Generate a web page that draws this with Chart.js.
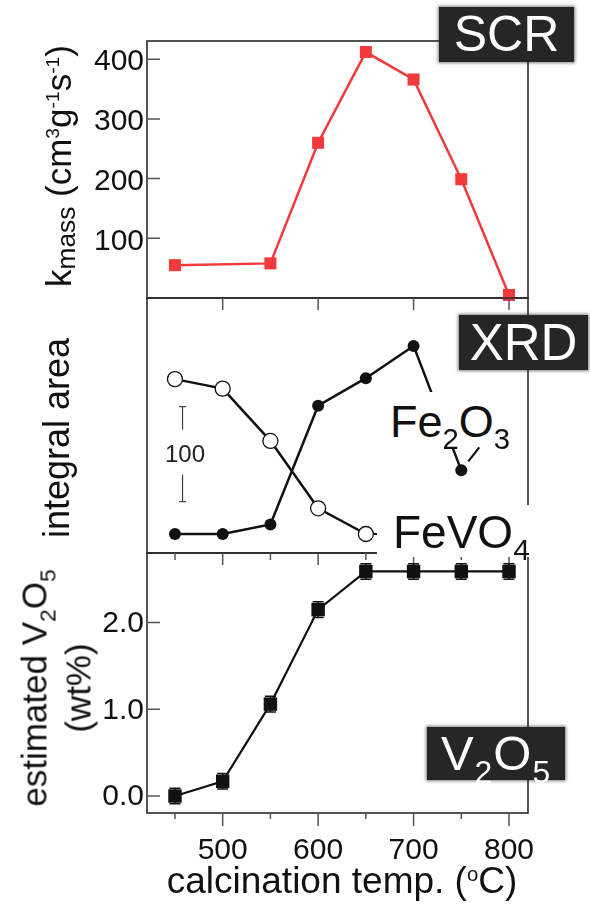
<!DOCTYPE html>
<html>
<head>
<meta charset="utf-8">
<script src="https://cdn.jsdelivr.net/npm/chart.js@4.4.1/dist/chart.umd.min.js"></script>
<style>
  html, body { margin: 0; padding: 0; background: #fff; }
  #wrap { position: relative; width: 590px; height: 917px; overflow: hidden;
          font-family: "Liberation Sans", Arial, sans-serif; color: #111; }
  canvas { position: absolute; left: 0; }
  .lbl { position: absolute; white-space: nowrap; }
  .rot { position: absolute; white-space: nowrap; text-align: center;
         transform: translate(-50%, -50%) rotate(-90deg); }
  .tag { position: absolute; background: #262626; color: #fff; text-align: center;
         box-shadow: 0 0 3px 1px rgba(38, 38, 38, 0.6); }
  .note { position: absolute; background: #fff; color: #111; white-space: nowrap; }
  .dn { position: relative; font-size: 0.65em; top: 0.4em; }
  .up { position: relative; font-size: 0.55em; top: -0.6em; }
</style>
</head>
<body>
<div id="wrap">
  <canvas id="scrChart" width="590" height="320" style="top:0"></canvas>
  <canvas id="xrdChart" width="590" height="290" style="top:280px"></canvas>
  <canvas id="v2o5Chart" width="590" height="387" style="top:530px"></canvas>

  <!-- axis titles -->
  <div class="rot" style="left:59px; top:166px; font-size:35px;">k<span class="dn" style="font-size:0.75em; top:0.15em;">mass</span> (cm<span class="up">3</span>g<span class="up">-1</span>s<span class="up">-1</span>)</div>
  <div class="rot" style="left:57px; top:438px; font-size:36px;">integral area</div>
  <div class="rot" style="left:56px; top:688px; font-size:35px; line-height:39px;">estimated V<span class="dn">2</span>O<span class="dn">5</span><br>(wt%)</div>
  <div class="lbl" style="left:0; width:684px; text-align:center; top:861px; font-size:37px; line-height:40px;">calcination temp. (<span class="up">o</span>C)</div>

  <!-- panel tags -->
  <div class="tag" style="left:439px; top:7px; width:135px; height:55px; font-size:50px; line-height:55px;">SCR</div>
  <div class="tag" style="left:459px; top:315px; width:129px; height:55px; font-size:51px; line-height:55px;">XRD</div>
  <div class="tag" style="left:427px; top:727px; width:138px; height:53px; font-size:49px; line-height:53px; letter-spacing:1px;">V<span class="dn">2</span>O<span class="dn">5</span></div>

  <!-- series labels -->
  <div class="note" style="left:382px; top:392px; width:138px; height:55px; font-size:45px; line-height:45px;"><div style="padding:7px 0 0 8px;">Fe<span class="dn">2</span>O<span class="dn">3</span></div></div>
  <div class="note" style="left:377px; top:505px; width:160px; height:52px; font-size:46px; line-height:45px;"><div style="padding:5px 0 0 16px;">FeVO<span class="dn">4</span></div></div>
  <div class="lbl" style="left:165px; top:440px; font-size:24px; line-height:28px; color:#222;">100</div>
</div>

<script>
// calcination temperatures (degC)
const temps = [450, 500, 550, 600, 650, 700, 750, 800];
// SCR activity k_mass (cm3 g-1 s-1), no sample at 500
const kMass = [55, null, 58, 260, 412, 366, 199, 5];
// XRD integral areas (arbitrary units)
const fe2o3Area = [16, 16, 26, 151, 180, 214, 83, null];
const fevo4Area = [179, 169, 114, 43, 16, null, null, null];
// estimated V2O5 (wt%) and error
const v2o5Wt = [0.0, 0.17, 1.06, 2.15, 2.59, 2.59, 2.59, 2.59];
const v2o5Err = [0.09, 0.09, 0.09, 0.09, 0.09, 0.09, 0.09, 0.09];

// ticks
const xTicks = [450, 500, 550, 600, 650, 700, 750, 800];
const xMajorTicks = [500, 600, 700, 800];
const kTicks = [100, 200, 300, 400];
const v2o5Ticks = [0, 1, 2];
const scaleBar = [50, 150];   // 100 area units, label in the middle

Chart.defaults.font.family = '"Liberation Sans", Arial, sans-serif';
Chart.defaults.color = '#111';

const points = ys => temps.map((t, i) => ({ x: t, y: ys[i] })).filter(p => p.y !== null);

const xRange = { type: 'linear', min: 420.7, max: 819.9 };

// frame, inward/outward ticks and a few extras, drawn from the chart scales
const framePlugin = {
    id: 'frame',
    beforeDatasetsDraw(chart, args, opts) {
        const { ctx, chartArea: a, scales: { x, y } } = chart;
        ctx.save();
        ctx.strokeStyle = '#2a2a2a';
        ctx.lineWidth = 1.6;
        ctx.strokeRect(a.left, a.top, a.right - a.left, a.bottom - a.top);

        ctx.beginPath();
        ctx.strokeStyle = '#555';
        ctx.lineWidth = 1.5;
        (opts.yTicks || []).forEach(v => {
            const py = y.getPixelForValue(v);
            ctx.moveTo(a.left, py);
            ctx.lineTo(a.left + 13, py);
        });
        (opts.topTicks || []).forEach(v => {
            const px = x.getPixelForValue(v);
            ctx.moveTo(px, a.top);
            ctx.lineTo(px, a.top + (v % 100 === 0 ? 12 : 7));
        });
        (opts.bottomTicks || []).forEach(v => {
            const px = x.getPixelForValue(v);
            ctx.moveTo(px, a.bottom);
            ctx.lineTo(px, a.bottom + (v % 100 === 0 ? 13 : 6));
        });
        ctx.stroke();

        if (opts.scaleBar) {
            const px = x.getPixelForValue(458);
            const top = y.getPixelForValue(opts.scaleBar[1]);
            const bot = y.getPixelForValue(opts.scaleBar[0]);
            ctx.beginPath();
            ctx.strokeStyle = '#222';
            ctx.lineWidth = 1;
            ctx.moveTo(px - 3.5, top); ctx.lineTo(px + 3.5, top);
            ctx.moveTo(px, top); ctx.lineTo(px, top + 23);
            ctx.moveTo(px, bot - 27); ctx.lineTo(px, bot);
            ctx.moveTo(px - 3.5, bot); ctx.lineTo(px + 3.5, bot);
            ctx.stroke();
        }

        if (opts.leaders) {
            ctx.beginPath();
            ctx.strokeStyle = '#111';
            ctx.lineWidth = 2.2;
            // Fe2O3 label leader to the 750 point
            const p1x = x.getPixelForValue(750), p1y = y.getPixelForValue(fe2o3Area[6]);
            ctx.moveTo(p1x + 7, p1y - 9); ctx.lineTo(p1x + 18, p1y - 23);
            // FeVO4 label leader from the 650 point
            const p2x = x.getPixelForValue(650), p2y = y.getPixelForValue(fevo4Area[4]);
            ctx.moveTo(p2x, p2y); ctx.lineTo(p2x + 22, p2y);
            ctx.stroke();
        }

        if (opts.errors) {
            ctx.beginPath();
            ctx.strokeStyle = '#111';
            ctx.lineWidth = 1.5;
            temps.forEach((t, i) => {
                const px = x.getPixelForValue(t);
                const y1 = y.getPixelForValue(v2o5Wt[i] - v2o5Err[i]);
                const y2 = y.getPixelForValue(v2o5Wt[i] + v2o5Err[i]);
                ctx.moveTo(px, y1); ctx.lineTo(px, y2);
                ctx.moveTo(px - 5.5, y1); ctx.lineTo(px + 5.5, y1);
                ctx.moveTo(px - 5.5, y2); ctx.lineTo(px + 5.5, y2);
            });
            ctx.stroke();
        }
        ctx.restore();
    }
};

const hiddenGrid = { display: false, drawTicks: false };

// SCR panel
new Chart(document.getElementById('scrChart'), {
    type: 'line',
    data: {
        datasets: [{
            data: points(kMass),
            borderColor: 'rgb(240, 58, 60)',
            backgroundColor: 'rgb(240, 58, 60)',
            borderWidth: 2.5,
            pointStyle: 'rect',
            pointRadius: 8.5,
            pointBorderWidth: 0,
            clip: false
        }]
    },
    options: {
        responsive: false,
        animation: false,
        layout: { padding: { top: 41, right: 62, bottom: 22, left: 0 } },
        plugins: { legend: { display: false }, tooltip: { enabled: false },
                   frame: { yTicks: kTicks } },
        scales: {
            x: { ...xRange, display: false },
            y: {
                min: 0, max: 430.5,
                afterFit: s => { s.width = 147; },
                afterBuildTicks: s => { s.ticks = kTicks.map(v => ({ value: v })); },
                grid: hiddenGrid, border: { display: false },
                ticks: { font: { size: 30 }, padding: 3, labelOffset: 3 }
            }
        }
    },
    plugins: [framePlugin]
});

// XRD panel
new Chart(document.getElementById('xrdChart'), {
    type: 'line',
    data: {
        datasets: [{
            data: points(fe2o3Area),
            borderColor: '#111',
            backgroundColor: '#111',
            borderWidth: 2.5,
            pointRadius: 6,
            pointBorderWidth: 0,
            clip: false
        }, {
            data: points(fevo4Area),
            borderColor: '#111',
            backgroundColor: '#fff',
            borderWidth: 2.5,
            pointRadius: 7.5,
            pointBorderWidth: 1.3,
            clip: false
        }]
    },
    options: {
        responsive: false,
        animation: false,
        layout: { padding: { top: 18, right: 62, bottom: 17, left: 147 } },
        plugins: { legend: { display: false }, tooltip: { enabled: false },
                   frame: { topTicks: xMajorTicks, scaleBar: scaleBar, leaders: true } },
        scales: {
            x: { ...xRange, display: false },
            y: { min: -4, max: 264.4, display: false }
        }
    },
    plugins: [framePlugin]
});

// V2O5 panel
new Chart(document.getElementById('v2o5Chart'), {
    type: 'line',
    data: {
        datasets: [{
            data: points(v2o5Wt),
            borderColor: '#111',
            backgroundColor: '#111',
            borderWidth: 2.2,
            pointStyle: 'rect',
            pointRadius: 9.5,
            pointBorderWidth: 0,
            clip: false
        }]
    },
    options: {
        responsive: false,
        animation: false,
        layout: { padding: { top: 23, right: 62, bottom: 0, left: 0 } },
        plugins: { legend: { display: false }, tooltip: { enabled: false },
                   frame: { yTicks: v2o5Ticks, topTicks: xTicks, bottomTicks: xTicks, errors: true } },
        scales: {
            x: {
                ...xRange,
                afterFit: s => { s.height = 104; },
                afterBuildTicks: s => { s.ticks = xTicks.map(v => ({ value: v })); },
                grid: hiddenGrid, border: { display: false },
                ticks: {
                    font: { size: 30 }, padding: 20, autoSkip: false, maxRotation: 0,
                    callback: v => (xMajorTicks.includes(v) ? String(v) : '')
                }
            },
            y: {
                min: -0.196, max: 2.803,
                afterFit: s => { s.width = 147; },
                afterBuildTicks: s => { s.ticks = v2o5Ticks.map(v => ({ value: v })); },
                grid: hiddenGrid, border: { display: false },
                ticks: { font: { size: 30 }, padding: 3, labelOffset: 1,
                         callback: v => v.toFixed(1) }
            }
        }
    },
    plugins: [framePlugin]
});
</script>
</body>
</html>
